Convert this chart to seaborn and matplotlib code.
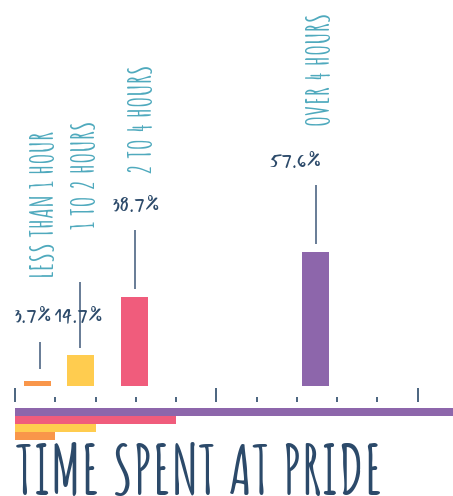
import numpy as np
import pandas as pd
import matplotlib
matplotlib.use("Agg")
import matplotlib.pyplot as plt
import seaborn as sns

# ---- data ----
categories = ["LESS THAN 1 HOUR", "1 TO 2 HOURS", "2 TO 4 HOURS", "OVER 4 HOURS"]
values = [3.7, 14.7, 38.7, 57.6]                 # percent of respondents
value_labels = ["3.7%", "14.7%", "38.7%", "57.6%"]
bar_hours = [0.56, 1.63, 2.97, 7.46]             # where each column sits on the hour scale
range_hours = [1, 2, 4, 11]                      # length of each hour-range band
colors = ["#F9964A", "#FFCC4F", "#F05C7C", "#8D66AB"]
hour_ticks = list(range(0, 11))
major_ticks = [0, 5, 10]

# ---- styling / layout ----
W, H, DPI = 453, 496, 100
TICK_PX = 40.27          # pixels per hour
PX = 2.393               # pixels per percent
NAVY = "#2C4A6A"
TEAL = "#4EA9BD"
LINE = "#4E6684"
HAND = ["Amatic SC", "DejaVu Sans"]
BRUSH = ["Mansalva", "Nanum Brush Script", "Caveat Brush", "DejaVu Sans"]

sns.set_theme(style="white")
plt.rcParams["font.family"] = HAND

fig = plt.figure(figsize=(W / DPI, H / DPI), dpi=DPI)

df = pd.DataFrame({"category": categories, "value": values, "hours": bar_hours,
                   "range": range_hours})
palette = dict(zip(categories, colors))

# main column chart
ax = fig.add_axes([0, (H - 386) / H, 1, 386 / H])
bar_w_units = 27 / TICK_PX
native = np.min(np.diff(np.sort(bar_hours)))
sns.barplot(data=df, x="hours", y="value", hue="category", palette=palette,
            native_scale=True, dodge=False, width=bar_w_units / native,
            saturation=1, errorbar=None, legend=False, linewidth=0, ax=ax)
ax.set_xlim(-15 / TICK_PX, (W - 15) / TICK_PX)
ybot = (389.86 - 386) / PX
ax.set_ylim(ybot, ybot + 386 / PX)
ax.set_axis_off()

# layout offsets in pixels, relative to the top centre of each column
val_off = [(-5, 62), (-2, 35.7), (1.5, 89.7), (-19.8, 88.7)]
cat_off = [(4.5, 103), (2.5, 125.7), (5.5, 123.7), (3.5, 125.7)]
leader = [(2.5, 12, 27), (-0.5, 7, 66), (0.5, 8, 59), (0.2, 8.4, 59)]

for i, (x, v) in enumerate(zip(bar_hours, values)):
    dx, gap, ln = leader[i]
    ax.vlines(x + dx / TICK_PX, v + gap / PX, v + (gap + ln) / PX,
              color=LINE, linewidth=1.2, clip_on=False)
    ax.annotate(value_labels[i], xy=(x, v), xytext=(val_off[i][0] * 0.72, val_off[i][1] * 0.72),
                textcoords="offset points", ha="center", va="center",
                fontsize=13.2, color=NAVY, family=BRUSH)
    ax.annotate(categories[i], xy=(x, v), xytext=(cat_off[i][0] * 0.72, cat_off[i][1] * 0.72),
                textcoords="offset points", ha="center", va="bottom", rotation=90,
                fontsize=22.5, fontweight="bold", color=TEAL, family=HAND)

# hour-range bands with the hour ruler
ax2 = fig.add_axes([0, (H - 440) / H, 1, 38 / H])
order = categories[::-1]
sns.barplot(data=df, x="range", y="category", hue="category", palette=palette,
            order=order, hue_order=categories, orient="h", width=1.0, dodge=False,
            saturation=1, errorbar=None, legend=False, linewidth=0, ax=ax2)
ax2.set_xlim(-15 / TICK_PX, (W - 15) / TICK_PX)
ax2.set_ylim(3.5, -1.25)
for s in ax2.spines.values():
    s.set_visible(False)
ax2.set_xlabel("")
ax2.set_ylabel("")
ax2.set_yticks([])
ax2.xaxis.tick_top()
ax2.set_xticks(major_ticks)
ax2.set_xticks([t for t in hour_ticks if t not in major_ticks], minor=True)
ax2.tick_params(axis="x", which="major", direction="out", length=10, width=1.2,
                color=NAVY, labeltop=False, labelbottom=False, top=True, bottom=False)
ax2.tick_params(axis="x", which="minor", direction="out", length=3.6, width=1.2,
                color=NAVY, top=True, bottom=False)

fig.text(16 / W, 1 - 469 / H, "TIME SPENT AT PRIDE", ha="left", va="center",
         fontsize=48.5, fontweight="bold", color=NAVY, family=HAND)

fig.savefig("out.png", dpi=DPI)
